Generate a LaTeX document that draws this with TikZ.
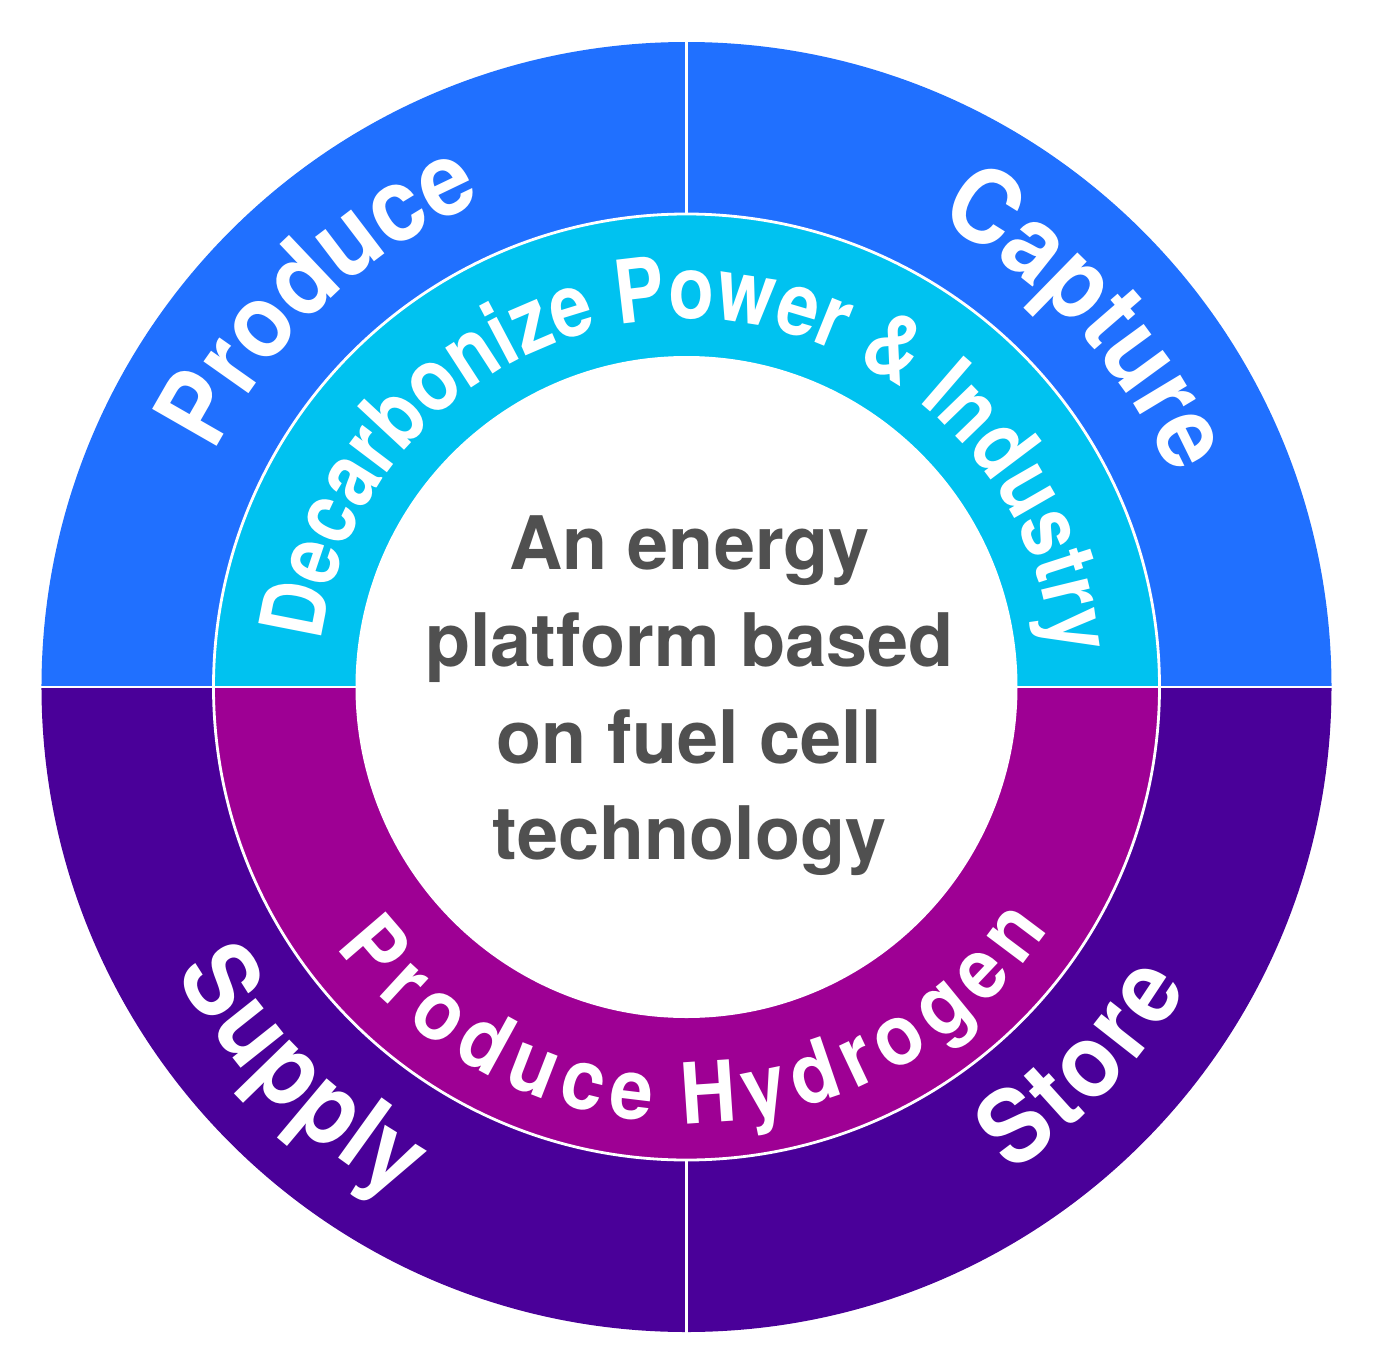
\documentclass[tikz,border=0pt]{standalone}
\usepackage{fontspec}
\usetikzlibrary{decorations.text}
\newfontfamily\ringfont[FakeStretch=0.92]{TeX Gyre Heros}
\newfontfamily\ringnarrow[FakeStretch=0.85]{TeX Gyre Heros}
\newfontfamily\centerfont{TeX Gyre Heros}
\definecolor{qblue}{RGB}{32,112,255}
\definecolor{qcyan}{RGB}{0,194,240}
\definecolor{qmag}{RGB}{158,0,148}
\definecolor{qpurple}{RGB}{74,0,153}
\definecolor{qgray}{RGB}{80,80,80}
\tikzset{
  sep/.style={draw=white, line width=0.028cm},
  ringdeco/.style={decorate, decoration={text along path, text align=center, text color=white}},
  ctext/.style={anchor=base, inner sep=0pt, text=qgray, font=\centerfont\bfseries\fontsize{21pt}{27pt}\selectfont},
}
\begin{document}
\begin{tikzpicture}
\useasboundingbox (-6.865,-6.78) rectangle (6.995,6.87);
\fill[white] (-6.865,-6.78) rectangle (6.995,6.87);
% outer ring halves
\fill[qblue] (0,0) -- (0:6.45) arc[start angle=0, end angle=180, radius=6.45] -- cycle;
\fill[qpurple] (0,0) -- (180:6.45) arc[start angle=180, end angle=360, radius=6.45] -- cycle;
% inner ring halves
\fill[qcyan] (0,0) -- (0:4.72) arc[start angle=0, end angle=180, radius=4.72] -- cycle;
\fill[qmag] (0,0) -- (180:4.72) arc[start angle=180, end angle=360, radius=4.72] -- cycle;
% centre disk
\fill[white] (0,0) circle[radius=3.31];
% separators
\draw[sep] (0,0) circle[radius=4.73];
\draw[sep] (-6.5,0) -- (-3.3,0);
\draw[sep] (3.3,0) -- (6.5,0);
\draw[sep] (0,4.73) -- (0,6.5);
\draw[sep] (0,-4.73) -- (0,-6.5);
% outer ring texts
\path[ringdeco, decoration={text={|\ringfont\bfseries\fontsize{29pt}{30pt}\selectfont|Produce}}]
  (173.2:5.27) arc[start angle=173.2, end angle=93.2, radius=5.27];
\path[ringdeco, decoration={text={|\ringfont\bfseries\fontsize{29pt}{30pt}\selectfont|Capture}}]
  (82.6:5.29) arc[start angle=82.6, end angle=2.6, radius=5.29];
\path[ringdeco, decoration={text={|\ringfont\bfseries\fontsize{29pt}{30pt}\selectfont|{S\kern0.55pt}{u\kern0.55pt}{p\kern0.55pt}{p\kern0.55pt}{l\kern0.55pt}y}}]
  (185:5.86) arc[start angle=185, end angle=265, radius=5.86];
\path[ringdeco, decoration={text={|\ringfont\bfseries\fontsize{29pt}{30pt}\selectfont|{S\kern1.3pt}{t\kern1.3pt}{o\kern1.3pt}{r\kern1.3pt}e}}]
  (276.4:5.84) arc[start angle=276.4, end angle=356.4, radius=5.84];
% inner ring texts
\path[ringdeco, decoration={text={|\ringnarrow\bfseries\fontsize{25pt}{26pt}\selectfont|Decarbonize Power {\&} Industry}}]
  (178:3.68) arc[start angle=178, end angle=0, radius=3.68];
\path[ringdeco, decoration={text={|\ringfont\bfseries\fontsize{24pt}{25pt}\selectfont|{P\kern2.85pt}{r\kern2.85pt}{o\kern2.85pt}{d\kern2.85pt}{u\kern2.85pt}{c\kern2.85pt}{e\kern2.85pt} {H\kern2.85pt}{y\kern2.85pt}{d\kern2.85pt}{r\kern2.85pt}{o\kern2.85pt}{g\kern2.85pt}{e\kern2.85pt}n}}]
  (191.4:4.36) arc[start angle=191.4, end angle=351.4, radius=4.36];
% centre text
\node[ctext] (l1) at (0.03,1.18) {An energy};
\node[ctext] (l2) at (0.03,0.21) {platform based};
\node[ctext] (l3) at (0.03,-0.76) {on fuel cell};
\node[ctext] (l4) at (0.03,-1.72) {technology};
\end{tikzpicture}
\end{document}
